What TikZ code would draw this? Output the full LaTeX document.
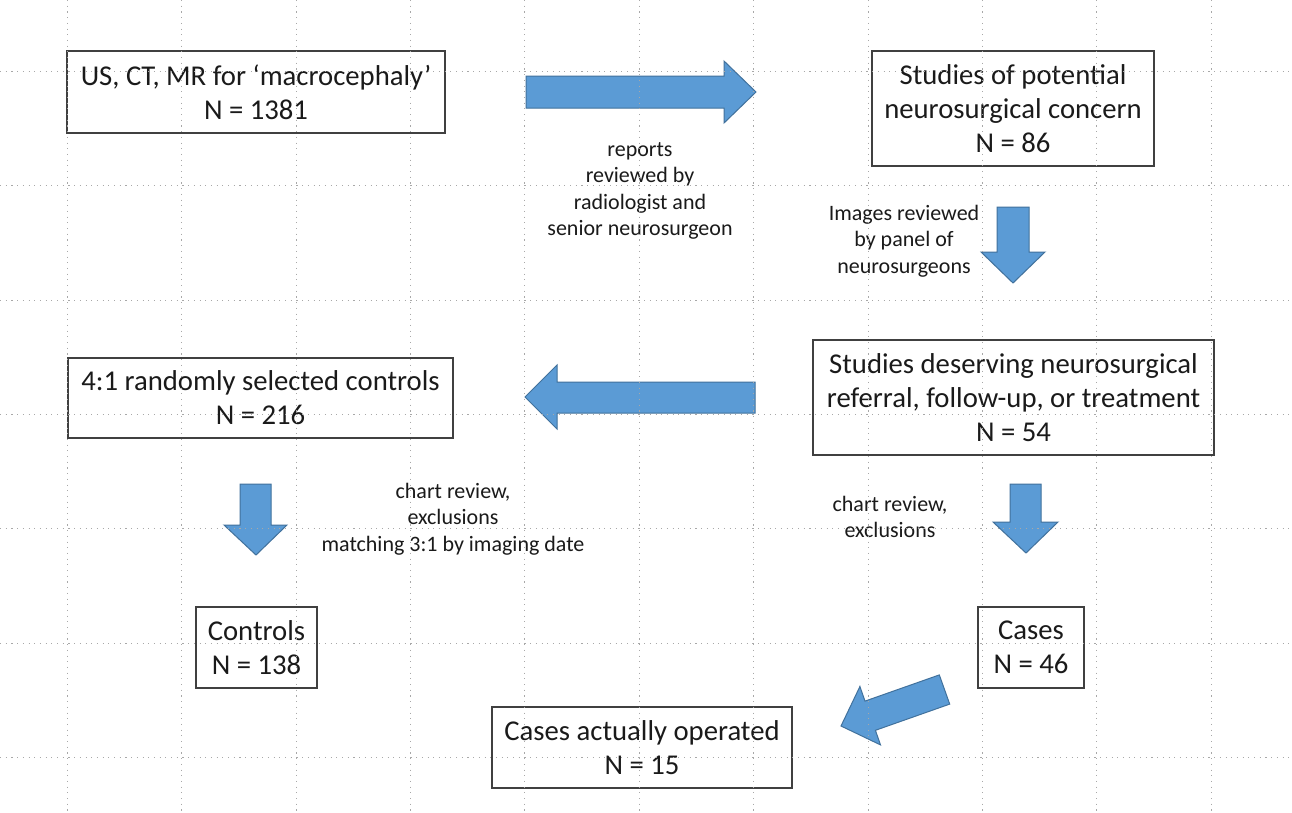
\documentclass[tikz,border=0pt]{standalone}
\usepackage{fontspec}
\setmainfont{Carlito}
\definecolor{arrowfill}{HTML}{5B9BD5}
\definecolor{arrowedge}{HTML}{41719C}
\definecolor{boxedge}{HTML}{404040}
\definecolor{txt}{HTML}{1A1A1A}
\definecolor{griddot}{HTML}{A8A8A8}
\tikzset{
  box/.style={draw=boxedge, line width=1.3pt, align=center, inner sep=0pt,
    text=txt, font=\fontsize{28.7}{34}\selectfont},
  lbl/.style={align=center, inner sep=0pt, text=txt, font=\fontsize{22}{26.5}\selectfont},
  blockarrow/.style={fill=arrowfill, draw=arrowedge, line width=1pt, line join=miter},
  gridline/.style={draw=griddot, line width=1.1pt, dash pattern=on 1.1pt off 4.6pt}
}
\begin{document}
\begin{tikzpicture}[x=1pt,y=-1pt]
\useasboundingbox[fill=white] (0,0) rectangle (1292,812);
% boxes
\node[box, minimum width=378pt, minimum height=82pt] (src) at (256,92)
  {US, CT, MR for ‘macrocephaly’\\N = 1381};
\node[box, minimum width=282pt, minimum height=115pt] (pot) at (1013,108.5)
  {Studies of potential\\neurosurgical concern\\N = 86};
\node[box, minimum width=385pt, minimum height=80pt] (ctl) at (260.5,398)
  {4:1 randomly selected controls\\N = 216};
\node[box, minimum width=401pt, minimum height=115pt] (des) at (1013.5,397.5)
  {Studies deserving neurosurgical\\referral, follow-up, or treatment\\N = 54};
\node[box, minimum width=121pt, minimum height=81pt] (con) at (256.5,647.5)
  {Controls\\N = 138};
\node[box, minimum width=106pt, minimum height=81pt] (cas) at (1031,647.5)
  {Cases\\N = 46};
\node[box, minimum width=300pt, minimum height=81pt] (ope) at (642,747.5)
  {Cases actually operated\\N = 15};
% labels
\node[lbl] (l1) at (640,191) {reports\\reviewed by\\radiologist and\\senior neurosurgeon};
\node[lbl] (l2) at (904,241) {Images reviewed\\by panel of\\neurosurgeons};
\node[lbl] (l3) at (453,519) {chart review,\\exclusions\\matching 3:1 by imaging date};
\node[lbl] (l4) at (890,517) {chart review,\\exclusions};
% block arrows
\path[blockarrow] (526,76) -- (724,76) -- (724,61) -- (756,92) -- (724,123) -- (724,108) -- (526,108) -- cycle;
\path[blockarrow] (997,207) -- (1029,207) -- (1029,252) -- (1045,252) -- (1013,283) -- (981,252) -- (997,252) -- cycle;
\path[blockarrow] (755,382) -- (557,382) -- (557,365) -- (525,397) -- (557,429) -- (557,413) -- (755,413) -- cycle;
\path[blockarrow] (240,484) -- (271,484) -- (271,525) -- (287,525) -- (256,555) -- (224,525) -- (240,525) -- cycle;
\path[blockarrow] (1010,484) -- (1041,484) -- (1041,522) -- (1058,522) -- (1026,553) -- (993,522) -- (1010,522) -- cycle;
\path[blockarrow] (939.3,674.9) -- (865.0,701.1) -- (859.9,686.5) -- (841,726) -- (880.5,744.9) -- (875.4,730.3) -- (949.7,704.1) -- cycle;
% dotted grid
\foreach \k in {0,...,10} \draw[gridline] ({67.3+114.4*\k},0) -- ({67.3+114.4*\k},812);
\foreach \k in {0,...,6} \draw[gridline] (0,{71.3+114.4*\k}) -- (1292,{71.3+114.4*\k});
\end{tikzpicture}
\end{document}
